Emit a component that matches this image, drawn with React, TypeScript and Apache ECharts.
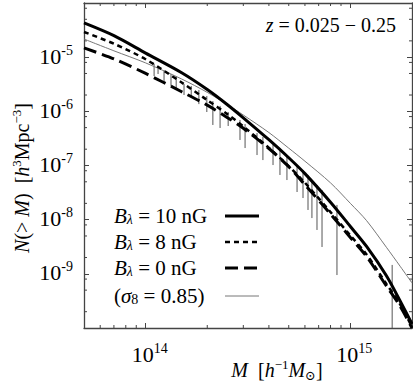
import React, { useEffect, useRef } from "react";
import * as echarts from "echarts";

// Mass grid (h^-1 M_sun) shared by the model curves
const massGrid = [5e13, 7e13, 1e14, 1.5e14, 2e14, 2.5e14, 3e14, 4e14, 5e14, 6e14, 8e14, 1e15, 1.2e15, 1.5e15, 1.75e15, 2e15];
// N(>M) for B_lambda = 10 nG (solid)
const nB10 = [4.28e-5, 2.49e-5, 1.19e-5, 5.16e-6, 2.53e-6, 1.34e-6, 7.6e-7, 2.99e-7, 1.39e-7, 7.08e-8, 2.1e-8, 7.48e-9, 3.2e-9, 9.2e-10, 3.16e-10, 1.19e-10];
// B_lambda = 8 nG (dotted)
const nB8 = [2.92e-5, 1.77e-5, 9.14e-6, 3.4e-6, 1.61e-6, 8.97e-7, 5.25e-7, 2.12e-7, 9.7e-8, 4.8e-8, 1.38e-8, 5.1e-9, 2.28e-9, 6.5e-10, 2.74e-10, 1.04e-10];
// B_lambda = 0 nG (long dashes)
const nB0 = [1.48e-5, 9.29e-6, 5.0e-6, 2.3e-6, 1.3e-6, 7.73e-7, 4.86e-7, 2.06e-7, 9.5e-8, 4.41e-8, 1.27e-8, 4.69e-9, 2.09e-9, 5.97e-10, 2.52e-10, 1.0e-10];
// sigma_8 = 0.85 (thin grey)
const nSigma8 = [2.16e-5, 1.31e-5, 7.83e-6, 3.95e-6, 2.24e-6, 1.34e-6, 8.55e-7, 4.06e-7, 2.09e-7, 1.2e-7, 4.78e-8, 2.0e-8, 9.6e-9, 3.09e-9, 1.38e-9, 6.8e-10];

// Error bars (vertical segments): mass, upper value, lower value
const errMass = [1.1e14, 1.15e14, 1.23e14, 1.33e14, 1.41e14, 1.54e14, 1.67e14, 1.82e14, 1.99e14, 2.13e14, 2.31e14, 2.53e14, 2.89e14, 3.06e14, 3.5e14, 3.74e14, 4.19e14, 4.53e14, 4.9e14, 5.49e14, 5.87e14, 6.21e14, 6.49e14, 6.87e14, 7.27e14, 8.6e14, 1.6e15];
const errTop = [7.48e-6, 6.87e-6, 5.79e-6, 4.89e-6, 4.49e-6, 3.2e-6, 2.94e-6, 2.48e-6, 1.92e-6, 1.55e-6, 1.26e-6, 9.72e-7, 6.92e-7, 5.83e-7, 3.98e-7, 3.36e-7, 2.39e-7, 1.93e-7, 1.5e-7, 1.02e-7, 8.26e-8, 6.68e-8, 5.39e-8, 4.36e-8, 3.53e-8, 1.87e-8, 1.46e-9];
const errBottom = [4.49e-6, 4.89e-6, 3.2e-6, 2.94e-6, 2.48e-6, 2.0e-6, 1.76e-6, 1.36e-6, 9.72e-7, 5.6e-7, 4.93e-7, 5.36e-7, 2.96e-7, 2.1e-7, 1.56e-7, 1.26e-7, 1.02e-7, 6.68e-8, 5.39e-8, 3.24e-8, 2.51e-8, 1.51e-8, 1.07e-8, 6.45e-9, 3.13e-9, 9.5e-10, 1.0e-10];

// Minor tick positions
const xMinorTicks = [6e13, 7e13, 8e13, 9e13, 2e14, 3e14, 4e14, 5e14, 6e14, 7e14, 8e14, 9e14];
const yMinorTicks = [2e-10, 5e-10, 8e-10, 2e-9, 5e-9, 8e-9, 2e-8, 5e-8, 8e-8, 2e-7, 5e-7, 8e-7, 2e-6, 5e-6, 8e-6, 2e-5, 5e-5, 8e-5];
// Labelled decades
const xLabelValues = [1e14, 1e15];
const yLabelValues = [1e-9, 1e-8, 1e-7, 1e-6, 1e-5];

const legendLabels = ["10 nG", "8 nG", "0 nG"];

const FONT = "'Liberation Serif', 'DejaVu Serif', serif";
const X_MIN = 5e13, X_MAX = 2e15, Y_MIN = 1e-10, Y_MAX = 1e-4;

const pairs = (ys: number[]) => massGrid.map((m, i) => [m, ys[i]]);
const expText = (v: number) => `{b|10}{s|${Math.round(Math.log10(v))}}`;

const labelRich = {
  b: { fontFamily: FONT, fontSize: 22, lineHeight: 26, color: "#111" },
  s: { fontFamily: FONT, fontSize: 14, lineHeight: 14, verticalAlign: "top", color: "#111" },
};

export default function App() {
  const ref = useRef<HTMLDivElement>(null);
  useEffect(() => {
    if (!ref.current) return;
    const chart = echarts.init(ref.current, null, { renderer: "svg", width: 413, height: 382 });
    const axisLine = { show: true, onZero: false, lineStyle: { color: "#444", width: 1.3 } };
    const tick = { show: true, inside: true, length: 5, lineStyle: { color: "#444", width: 1 } };

    const legendRows = [
      { label: legendLabels[0], style: { stroke: "#000", lineWidth: 3 } },
      { label: legendLabels[1], style: { stroke: "#000", lineWidth: 2.5, lineDash: [5, 4] } },
      { label: legendLabels[2], style: { stroke: "#000", lineWidth: 3, lineDash: [13, 6] } },
    ];
    const legendY = [216, 242, 268, 296];
    const legendRich = {
      i: { fontFamily: FONT, fontStyle: "italic", fontSize: 21, color: "#111" },
      sub: { fontFamily: FONT, fontStyle: "italic", fontSize: 14, color: "#111", verticalAlign: "bottom", lineHeight: 12, padding: [9, 0, 0, 0] },
      r: { fontFamily: FONT, fontSize: 21, color: "#111" },
    };
    const titleRich = {
      i: { fontFamily: FONT, fontStyle: "italic", fontSize: 20, lineHeight: 24, color: "#111" },
      r: { fontFamily: FONT, fontSize: 20, lineHeight: 24, color: "#111" },
      sup: { fontFamily: FONT, fontSize: 13, lineHeight: 13, verticalAlign: "top", color: "#111" },
      sub: { fontFamily: FONT, fontSize: 13, lineHeight: 13, verticalAlign: "bottom", color: "#111" },
    };
    const graphics: any[] = [];
    legendRows.forEach((row, k) => {
      graphics.push({
        type: "text", left: 114, top: legendY[k] - 13,
        style: { text: `{i|B}{sub|λ}{r| = ${row.label}}`, rich: legendRich },
      });
      graphics.push({ type: "line", shape: { x1: 225, y1: legendY[k], x2: 259, y2: legendY[k] }, style: row.style });
    });
    graphics.push({
      type: "text", left: 114, top: legendY[3] - 13,
      style: { text: "{r|(}{i|σ}{sub|8}{r| = 0.85)}", rich: { ...legendRich, sub: { ...legendRich.sub, fontStyle: "normal" } } },
    });
    graphics.push({ type: "line", shape: { x1: 225, y1: legendY[3], x2: 259, y2: legendY[3] }, style: { stroke: "#777", lineWidth: 1 } });
    graphics.push({
      type: "text", right: 17, top: 15,
      style: { text: "{i|z}{r| = 0.025 − 0.25}", rich: { ...legendRich, i: { ...legendRich.i, fontSize: 20 }, r: { ...legendRich.r, fontSize: 20 } } },
    });
    // axis titles
    graphics.push({
      type: "text", x: 277, y: 370,
      style: { text: "{i|M}{r|  [}{i|h}{sup|−1}{i|M}{sub|⊙}{r|]}", rich: titleRich, align: "center", verticalAlign: "middle" },
    });
    graphics.push({
      type: "text", x: 22, y: 178, rotation: Math.PI / 2,
      style: { text: "{i|N}{r|(> }{i|M}{r|)  [}{i|h}{sup|3}{r|Mpc}{sup|−3}{r|]}", rich: titleRich, align: "center", verticalAlign: "middle" },
    });

    const minorStyle = { stroke: "#444", lineWidth: 1 };

    chart.setOption({
      animation: false,
      grid: { left: 84, right: 1, top: 3, bottom: 54, containLabel: false, outerBoundsMode: "none" },
      xAxis: [
        {
          type: "log", logBase: 10, min: X_MIN, max: X_MAX, position: "bottom",
          axisLine, axisTick: tick, splitLine: { show: false }, axisLabel: { show: false },
        },
        {
          type: "log", logBase: 10, min: X_MIN, max: X_MAX, position: "top",
          axisLine, axisTick: tick, axisLabel: { show: false }, splitLine: { show: false },
        },
      ],
      yAxis: [
        {
          type: "log", logBase: 10, min: Y_MIN, max: Y_MAX, position: "left",
          axisLine, axisTick: tick, splitLine: { show: false }, axisLabel: { show: false },
        },
        {
          type: "log", logBase: 10, min: Y_MIN, max: Y_MAX, position: "right",
          axisLine, axisTick: tick, axisLabel: { show: false }, splitLine: { show: false },
        },
      ],
      graphic: graphics,
      series: [
        {
          type: "custom", name: "error bars", silent: true, clip: true,
          data: errMass.map((m, i) => [m, errTop[i], errBottom[i]]),
          encode: { x: 0, y: [1, 2] },
          renderItem: (params: any, api: any) => {
            const a = api.coord([api.value(0), api.value(1)]);
            const b = api.coord([api.value(0), api.value(2)]);
            return { type: "line", shape: { x1: a[0], y1: a[1], x2: b[0], y2: b[1] }, style: { stroke: "#555", lineWidth: 1 } };
          },
          z: 1,
        },
        {
          type: "line", name: "σ8 = 0.85", data: pairs(nSigma8), showSymbol: false, symbol: "none", smooth: 0.3,
          lineStyle: { color: "#777", width: 1 }, z: 2,
        },
        {
          type: "line", name: "B = 0 nG", data: pairs(nB0), showSymbol: false, symbol: "none", smooth: 0.3,
          lineStyle: { color: "#000", width: 3, type: [13, 6] }, z: 3,
        },
        {
          type: "line", name: "B = 8 nG", data: pairs(nB8), showSymbol: false, symbol: "none", smooth: 0.3,
          lineStyle: { color: "#000", width: 2.5, type: [5, 4] }, z: 4,
        },
        {
          type: "line", name: "B = 10 nG", data: pairs(nB10), showSymbol: false, symbol: "none", smooth: 0.3,
          lineStyle: { color: "#000", width: 3 }, z: 5,
        },
        {
          type: "custom", name: "x minor ticks", silent: true, clip: false,
          data: xMinorTicks.map((m) => [m, 1e-7]),
          encode: { x: 0, y: 1 },
          renderItem: (params: any, api: any) => {
            const cs = params.coordSys;
            const p = api.coord([api.value(0), api.value(1)]);
            return {
              type: "group",
              children: [
                { type: "line", shape: { x1: p[0], y1: cs.y + cs.height, x2: p[0], y2: cs.y + cs.height - 3 }, style: minorStyle },
                { type: "line", shape: { x1: p[0], y1: cs.y, x2: p[0], y2: cs.y + 3 }, style: minorStyle },
              ],
            };
          },
        },
        {
          type: "custom", name: "y minor ticks", silent: true, clip: false,
          data: yMinorTicks.map((n) => [3e14, n]),
          encode: { x: 0, y: 1 },
          renderItem: (params: any, api: any) => {
            const cs = params.coordSys;
            const p = api.coord([api.value(0), api.value(1)]);
            return {
              type: "group",
              children: [
                { type: "line", shape: { x1: cs.x, y1: p[1], x2: cs.x + 3, y2: p[1] }, style: minorStyle },
                { type: "line", shape: { x1: cs.x + cs.width, y1: p[1], x2: cs.x + cs.width - 3, y2: p[1] }, style: minorStyle },
              ],
            };
          },
        },
        {
          type: "custom", name: "x tick labels", silent: true, clip: false,
          data: xLabelValues.map((m) => [m, 1e-7]),
          encode: { x: 0, y: 1 },
          renderItem: (params: any, api: any) => {
            const cs = params.coordSys;
            const p = api.coord([api.value(0), api.value(1)]);
            return {
              type: "text", x: p[0] + 4, y: cs.y + cs.height + 13,
              style: { text: expText(api.value(0)), rich: labelRich, align: "center", verticalAlign: "top" },
            };
          },
        },
        {
          type: "custom", name: "y tick labels", silent: true, clip: false,
          data: yLabelValues.map((n) => [3e14, n]),
          encode: { x: 0, y: 1 },
          renderItem: (params: any, api: any) => {
            const cs = params.coordSys;
            const p = api.coord([api.value(0), api.value(1)]);
            return {
              type: "text", x: cs.x - 11, y: p[1] - 1,
              style: { text: expText(api.value(1)), rich: labelRich, align: "right", verticalAlign: "middle" },
            };
          },
        },
      ],
    });
    return () => chart.dispose();
  }, []);
  return <div ref={ref} style={{ position: "fixed", left: 0, top: 0, width: 413, height: 382, background: "#fff" }} />;
}
